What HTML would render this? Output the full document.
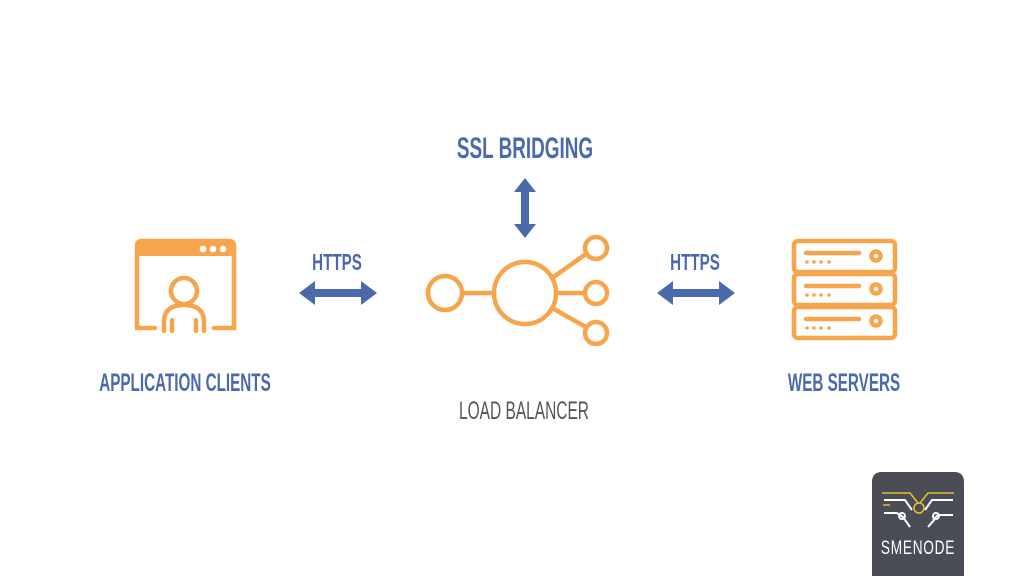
<!DOCTYPE html>
<html><head><style>
body{margin:0;width:1024px;height:576px;background:#fff;overflow:hidden;position:relative}
svg{position:absolute;left:0;top:0}
</style></head><body>
<svg width="1024" height="576" viewBox="0 0 1024 576">
<g font-family="Liberation Sans, sans-serif" text-anchor="middle">
<text x="525" y="158" font-size="30" font-weight="bold" fill="#4a6aab" transform="translate(525 0) scale(0.63 1) translate(-525 0)">SSL BRIDGING</text>
<text x="337" y="270" font-size="23" font-weight="bold" fill="#4a6aab" transform="translate(337 0) scale(0.66 1) translate(-337 0)">HTTPS</text>
<text x="695" y="270" font-size="23" font-weight="bold" fill="#4a6aab" transform="translate(695 0) scale(0.66 1) translate(-695 0)">HTTPS</text>
<text x="185" y="391" font-size="25" font-weight="bold" fill="#4a6aab" transform="translate(185 0) scale(0.61 1) translate(-185 0)">APPLICATION CLIENTS</text>
<text x="844" y="391" font-size="25" font-weight="bold" fill="#4a6aab" transform="translate(844 0) scale(0.61 1) translate(-844 0)">WEB SERVERS</text>
<text x="524" y="419" font-size="25" fill="#555" transform="translate(524 0) scale(0.62 1) translate(-524 0)">LOAD BALANCER</text>
</g>
<g fill="#4a6aab">
<polygon points="525,178 536,192 529,192 529,224 536,224 525,238 514,224 521,224 521,192 514,192"/>
<polygon points="299,293 315,281 315,289 361,289 361,281 377,293 361,305 361,297 315,297 315,305"/>
<polygon points="657,293 673,281 673,289 719,289 719,281 735,293 719,305 719,297 673,297 673,305"/>
</g>
<g fill="none" stroke="#f6a54c" stroke-width="4.5" stroke-linecap="round">
<path d="M155,328 H137 V246 Q137,241 142,241 H229 Q234,241 234,246 V328 H214"/>
<rect x="137" y="241" width="97" height="15" fill="#f6a54c" stroke="none" rx="4"/>
<circle cx="184" cy="291" r="13"/>
<path d="M164,331 V322 Q164,305 184,305 Q204,305 204,322 V331"/>
<path d="M172,320 V331 M196,320 V331"/>
<circle cx="445" cy="293" r="17"/>
<circle cx="525" cy="293" r="31"/>
<circle cx="596" cy="248" r="11"/>
<circle cx="596" cy="293" r="11"/>
<circle cx="596" cy="333" r="11"/>
<path d="M462,293 H494 M556,293 H585 M552,278 L586,254 M552,308 L586,327"/>
<rect x="794" y="241" width="101" height="31" rx="4"/>
<rect x="794" y="274" width="101" height="31" rx="4"/>
<rect x="794" y="307" width="101" height="31" rx="4"/>
<path d="M806,253 H859 M806,286 H859 M806,319 H859"/>
<circle cx="876" cy="256" r="4.5"/><circle cx="876" cy="289" r="4.5"/><circle cx="876" cy="321" r="4.5"/>
</g>
<g fill="#fff">
<circle cx="203" cy="249" r="3.3"/><circle cx="213" cy="249" r="3.3"/><circle cx="223" cy="249" r="3.3"/>
</g>
<g fill="#f6a54c">
<circle cx="807" cy="262" r="1.8"/><circle cx="814" cy="262" r="1.8"/><circle cx="821" cy="262" r="1.8"/><circle cx="829" cy="262" r="1.8"/>
<circle cx="807" cy="295" r="1.8"/><circle cx="814" cy="295" r="1.8"/><circle cx="821" cy="295" r="1.8"/><circle cx="829" cy="295" r="1.8"/>
<circle cx="807" cy="328" r="1.8"/><circle cx="814" cy="328" r="1.8"/><circle cx="821" cy="328" r="1.8"/><circle cx="829" cy="328" r="1.8"/>
</g>
<path d="M872,482 Q872,472 882,472 H954 Q964,472 964,482 V576 H872 Z" fill="#4a4d56"/>
<g fill="none" stroke="#fff" stroke-width="2">
<path d="M884,500 H905 L912,510 M884,513 H897 M897,513 L903,517 M953,500 H932 L925,510 M953,515 H938 L933,520 M903,517 L910,527 M935,519 L928,527"/>
<circle cx="902" cy="516" r="3"/><circle cx="936" cy="516" r="3"/>
</g>
<g fill="none" stroke="#e6c12a" stroke-width="1.5">
<path d="M882,493 H910 L918,503 M954,493 H928 L920,503 M883,505 H890"/>
<circle cx="919" cy="508" r="5"/>
</g>
<text x="918" y="554" font-family="Liberation Sans, sans-serif" font-size="19" fill="#fff" text-anchor="middle" letter-spacing="1" transform="translate(918 0) scale(0.72 1) translate(-918 0)">SMENODE</text>
</svg>
</body></html>
